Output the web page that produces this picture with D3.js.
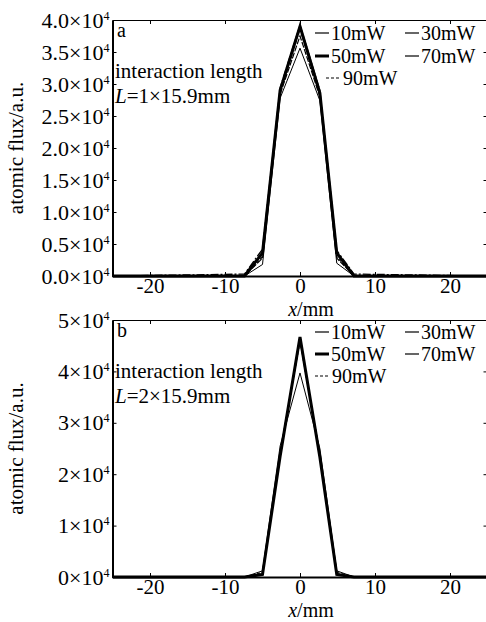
<!DOCTYPE html>
<html>
<head>
<meta charset="utf-8">
<script src="https://cdn.jsdelivr.net/npm/d3@7"></script>
<style>
  body { margin: 0; background: #fff; }
  text { font-family: "Liberation Serif", "DejaVu Serif", serif; fill: #000; }
</style>
</head>
<body>
<div id="chart"></div>
<script>
// sample positions (mm) shared by both panels
const xPos = [-25, -7.4, -5.0, -2.65, 0, 2.65, 4.9, 7.2, 25];
const xTicks = [-20, -10, 0, 10, 20];
const yTicksA = [0, 0.5, 1, 1.5, 2, 2.5, 3, 3.5, 4];
const yTicksB = [0, 1, 2, 3, 4, 5];
const powers = ["10mW", "30mW", "50mW", "70mW", "90mW"];

// panel a, flux in units of 10^4
const a10 = [0, 0, 0.18, 2.78, 3.56, 2.74, 0.2, 0, 0];
const a30 = [0, 0, 0.28, 2.84, 3.75, 2.8, 0.28, 0, 0];
const a50 = [0, 0, 0.36, 2.9, 3.9, 2.86, 0.36, 0, 0];
const a70 = [0, 0.03, 0.42, 2.94, 3.92, 2.9, 0.4, 0.03, 0];
const a90 = [0, 0, 0.3, 2.88, 3.86, 2.84, 0.3, 0, 0];

// panel b
const b10 = [0, 0, 0.12, 2.55, 3.97, 2.5, 0.12, 0, 0];
const b30 = [0, 0, 0.06, 2.4, 4.6, 2.38, 0.06, 0, 0];
const b50 = [0, 0, 0.05, 2.35, 4.67, 2.33, 0.05, 0, 0];
const b70 = [0, 0, 0.06, 2.38, 4.64, 2.36, 0.06, 0, 0];
const b90 = [0, 0, 0.09, 2.42, 4.6, 2.4, 0.09, 0, 0];

const styles = [
  {w: 1, dash: null},
  {w: 1.2, dash: "6,1.5"},
  {w: 3, dash: null},
  {w: 1.3, dash: "8,2,2,2"},
  {w: 1.2, dash: "3,2"}
];

const width = 486, height = 622;
const svg = d3.select("#chart").append("svg")
  .attr("width", width)
  .attr("height", height);

const x = d3.scaleLinear().domain([-25, 25]).range([112.5, 487.5]);

const panels = [
  {top: 20, bottom: 276, yMax: 4, ticks: yTicksA, fmt: d => d.toFixed(1),
   series: [a10, a30, a50, a70, a90], tag: "a", n: "1",
   legY: [40, 63, 85], leg3x: 326},
  {top: 320, bottom: 577, yMax: 5, ticks: yTicksB, fmt: d => String(d),
   series: [b10, b30, b50, b70, b90], tag: "b", n: "2",
   legY: [339, 361, 383], leg3x: 315}
];

panels.forEach(p => {
  const y = d3.scaleLinear().domain([0, p.yMax]).range([p.bottom, p.top]);
  const g = svg.append("g");

  // frame
  g.append("g")
    .attr("transform", "translate(0," + p.top + ")")
    .call(d3.axisTop(x).tickValues(xTicks).tickSize(-4).tickSizeOuter(0).tickFormat(""))
    .call(s => s.select(".domain").attr("stroke-width", 1));
  g.append("g")
    .attr("transform", "translate(487.5,0)")
    .call(d3.axisRight(y).tickValues(p.ticks).tickSize(-4).tickSizeOuter(0).tickFormat(""));

  const xa = g.append("g")
    .attr("transform", "translate(0," + p.bottom + ")")
    .call(d3.axisBottom(x).tickValues(xTicks).tickSize(-4).tickSizeOuter(0)
      .tickPadding(2).tickFormat(d => String(d)));
  xa.select(".domain").attr("stroke-width", 2);
  xa.selectAll(".tick text")
    .attr("font-size", 21)
    .attr("font-family", "Liberation Serif");

  const ya = g.append("g")
    .attr("transform", "translate(112.5,0)")
    .call(d3.axisLeft(y).tickValues(p.ticks).tickSize(-4).tickSizeOuter(0).tickPadding(3));
  ya.select(".domain").attr("stroke-width", 2);
  ya.selectAll(".tick text")
    .attr("font-size", 22)
    .attr("font-family", "Liberation Serif")
    .text(null)
    .call(t => t.append("tspan").text(d => p.fmt(d) + "×10"))
    .call(t => t.append("tspan").attr("dy", -8).attr("font-size", 12).text("4"));

  // curves
  const line = d3.line().x(d => x(d[0])).y(d => y(d[1]));
  [2, 0, 1, 3, 4].forEach(i => {
    g.append("path")
      .datum(d3.zip(xPos, p.series[i]))
      .attr("d", line)
      .attr("fill", "none")
      .attr("stroke", "#000")
      .attr("stroke-width", styles[i].w)
      .attr("stroke-dasharray", styles[i].dash)
      .attr("stroke-linejoin", "miter");
  });

  // labels inside the box
  g.append("text").attr("x", 117).attr("y", p.top + 17).attr("font-size", 20).text(p.tag);
  g.append("text").attr("x", 115).attr("y", p.top + 58).attr("font-size", 21).text("interaction length");
  const lt = g.append("text").attr("x", 115).attr("y", p.top + 83).attr("font-size", 21);
  lt.append("tspan").attr("font-style", "italic").text("L");
  lt.append("tspan").text("=" + p.n + "×15.9mm");

  // legend
  const legPos = [
    [315, p.legY[0]], [405, p.legY[0]],
    [315, p.legY[1]], [405, p.legY[1]],
    [p.leg3x, p.legY[2]]
  ];
  powers.forEach((name, i) => {
    const [lx, ly] = legPos[i];
    const len = i === 4 ? 15 : 14;
    g.append("line")
      .attr("x1", lx).attr("x2", lx + len)
      .attr("y1", ly - 7).attr("y2", ly - 7)
      .attr("stroke", "#000")
      .attr("stroke-width", i === 2 ? 3 : 1.2)
      .attr("stroke-dasharray", i === 4 ? "3,2" : null);
    g.append("text")
      .attr("x", lx + len + 2).attr("y", ly)
      .attr("font-size", 20)
      .text(name);
  });

  // axis titles
  g.append("text")
    .attr("text-anchor", "middle")
    .attr("font-size", 21)
    .attr("transform", "translate(23," + ((p.top + p.bottom) / 2) + ") rotate(-90)")
    .text("atomic flux/a.u.");
  const xt = g.append("text")
    .attr("text-anchor", "middle")
    .attr("x", 311).attr("y", p.bottom + 40)
    .attr("font-size", 20);
  xt.append("tspan").attr("font-style", "italic").text("x");
  xt.append("tspan").text("/mm");
});
</script>
</body>
</html>
